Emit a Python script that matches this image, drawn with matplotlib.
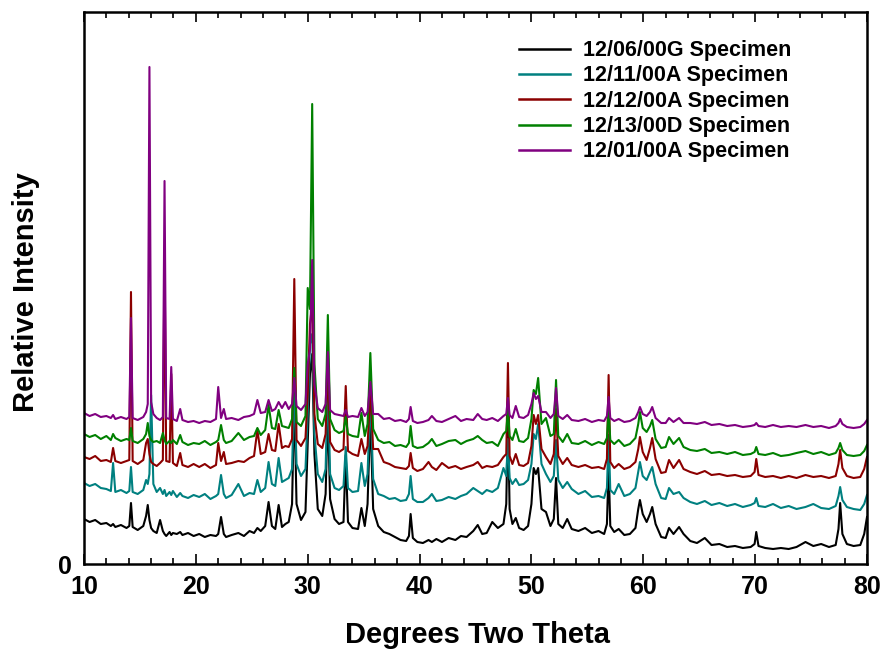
import matplotlib
matplotlib.use("Agg")
import matplotlib.pyplot as plt
from matplotlib.ticker import MultipleLocator

# 2-theta positions (deg) shared by all five patterns, one row per region
two_theta = [
    10.0, 10.5, 11.0, 11.5, 12.0, 12.4, 12.6, 12.8, 13.3, 13.8,
    14.05, 14.2, 14.35, 14.8, 15.3, 15.55, 15.7, 15.85, 16.0, 16.2, 16.5,
    16.8, 17.05, 17.2, 17.35, 17.65, 17.8, 17.95, 18.3, 18.6, 18.8, 19.3, 19.8,
    20.3, 20.8, 21.3, 21.8, 22.0, 22.25, 22.5, 22.7, 23.2, 23.8, 24.3, 24.8,
    25.2, 25.5, 25.8, 26.2, 26.5, 26.8, 27.1, 27.4, 27.7, 28.0, 28.3, 28.6, 28.8, 29.0, 29.4, 29.8,
    30.0, 30.2, 30.4, 30.6, 30.9, 31.3, 31.6, 31.8, 32.0, 32.4, 32.8, 33.2, 33.4, 33.6, 34.0,
    34.5, 34.8, 35.1, 35.35, 35.6, 35.85, 36.3, 36.8, 37.3, 37.8, 38.3, 38.8, 39.05, 39.2, 39.4, 39.8,
    40.3, 40.8, 41.1, 41.5, 42.0, 42.6, 43.2, 43.7, 44.2, 44.8, 45.2, 45.6, 46.0, 46.5, 47.0,
    47.5, 47.75, 47.9, 48.05, 48.3, 48.6, 48.9, 49.3, 49.7, 50.0, 50.2, 50.4, 50.6, 50.9, 51.3, 51.7,
    52.0, 52.2, 52.4, 52.8, 53.2, 53.6, 54.2, 54.8, 55.4, 56.0, 56.5, 56.75, 56.9, 57.05, 57.4, 57.8, 58.3,
    58.8, 59.3, 59.55, 59.7, 59.95, 60.3, 60.6, 60.8, 61.1, 61.6, 62.0, 62.3, 62.7, 63.2, 63.6,
    64.2, 64.8, 65.5, 66.1, 66.8, 67.5, 68.2, 68.9, 69.6, 69.95, 70.1, 70.3, 70.9, 71.6, 72.3,
    73.0, 73.7, 74.5, 75.2, 75.9, 76.6, 77.2, 77.45, 77.6, 77.8, 78.2, 78.8, 79.4, 79.75, 80.0,
]

# relative intensities (offset patterns), same row layout as two_theta
spec_1206g = [
    45, 42, 44, 40, 41, 38, 40, 37, 39, 36,
    38, 61, 37, 34, 38, 48, 59, 44, 36, 33, 31,
    44, 33, 30, 28, 32, 29, 31, 30, 32, 29, 31, 28,
    30, 27, 29, 28, 30, 47, 30, 27, 29, 31, 28, 33,
    31, 36, 33, 38, 62, 38, 35, 59, 37, 40, 42, 60, 169, 60, 44, 52,
    120, 190, 210, 110, 55, 48, 70, 155, 65, 45, 40, 42, 109, 42, 36,
    35, 56, 38, 60, 150, 55, 38, 32, 30, 27, 24, 23, 28, 50, 26, 22,
    21, 24, 22, 25, 22, 26, 24, 28, 27, 33, 39, 30, 31, 42, 36,
    40, 60, 150, 55, 40, 46, 36, 34, 38, 60, 96, 90, 96, 55, 52, 38,
    45, 86, 40, 36, 45, 35, 33, 36, 31, 33, 30, 40, 98, 38, 32, 35, 29,
    30, 36, 55, 64, 50, 42, 50, 57, 40, 27, 26, 36, 30, 37, 30,
    23, 21, 26, 19, 20, 17, 18, 16, 17, 20, 32, 18, 16, 15, 16,
    15, 17, 22, 18, 20, 17, 19, 35, 61, 30, 20, 18, 19, 30, 47,
]
spec_1211a = [
    81, 78, 80, 76, 75, 73, 101, 72, 74, 71,
    73, 97, 72, 70, 74, 84, 80, 90, 169, 80, 72,
    76, 70, 74, 68, 72, 69, 73, 67, 71, 68, 66, 69,
    67, 70, 65, 68, 70, 89, 70, 66, 69, 80, 68, 71,
    70, 84, 72, 76, 102, 80, 78, 106, 82, 84, 86, 95, 180, 100, 88, 95,
    150, 220, 230, 130, 90, 82, 95, 185, 90, 76, 74, 78, 117, 76, 72,
    73, 101, 78, 90, 169, 85, 70, 68, 65, 66, 63, 64, 70, 88, 65, 62,
    62, 66, 70, 63, 64, 67, 65, 68, 70, 76, 73, 70, 74, 72, 76,
    96, 88, 125, 86, 80, 85, 79, 80, 84, 100, 130, 125, 140, 100, 90, 82,
    88, 124, 84, 76, 82, 75, 70, 73, 67, 68, 66, 76, 129, 74, 70, 80, 68,
    70, 76, 92, 102, 88, 84, 92, 97, 80, 66, 65, 76, 70, 72, 66,
    62, 60, 63, 59, 61, 58, 60, 57, 59, 61, 66, 58, 57, 60, 56,
    58, 55, 57, 60, 56, 55, 58, 68, 77, 64, 57, 55, 54, 60, 69,
]
spec_1212a = [
    107, 105, 108, 103, 104, 102, 116, 103, 101, 103,
    104, 272, 103, 100, 104, 121, 125, 110, 102, 100, 98,
    101, 104, 311, 103, 102, 190, 101, 98, 111, 99, 97, 100,
    97, 100, 96, 99, 121, 103, 112, 100, 101, 103, 102, 106,
    108, 134, 110, 112, 130, 114, 113, 140, 116, 118, 117, 125, 285, 124, 118, 126,
    170, 240, 260, 150, 120, 116, 130, 200, 122, 114, 112, 115, 178, 113, 110,
    108, 125, 110, 118, 175, 115, 115, 102, 100, 97, 96, 95, 98, 111, 96, 93,
    95, 102, 97, 94, 101, 96, 98, 95, 97, 99, 102, 96, 98, 97, 99,
    107, 110, 201, 108, 100, 110, 99, 98, 101, 118, 149, 140, 149, 115, 107, 100,
    110, 155, 108, 100, 106, 99, 97, 99, 96, 97, 95, 105, 189, 102, 96, 100, 95,
    97, 102, 115, 127, 112, 104, 116, 126, 105, 91, 92, 104, 96, 104, 95,
    92, 90, 93, 89, 90, 88, 89, 87, 88, 92, 105, 89, 87, 88, 86,
    88, 86, 89, 87, 88, 86, 88, 100, 114, 96, 88, 86, 87, 95, 107,
]
spec_1213d = [
    130, 127, 129, 125, 128, 124, 130, 126, 123, 125,
    124, 136, 123, 121, 125, 130, 141, 128, 124, 122, 123,
    121, 131, 124, 120, 123, 121, 124, 120, 129, 122, 119, 121,
    120, 123, 119, 122, 124, 139, 124, 121, 123, 131, 124, 127,
    128, 136, 129, 134, 159, 136, 135, 154, 138, 137, 136, 145, 196, 142, 138, 148,
    276, 255, 460, 200, 145, 138, 150, 249, 145, 134, 131, 133, 147, 130, 128,
    127, 151, 128, 140, 211, 135, 124, 121, 122, 118, 119, 117, 121, 138, 118, 116,
    117, 121, 125, 118, 120, 123, 124, 120, 123, 125, 128, 124, 121, 122, 118,
    130, 133, 154, 128, 124, 135, 123, 122, 126, 145, 174, 170, 186, 140, 146, 128,
    130, 184, 128, 122, 130, 121, 120, 123, 119, 122, 120, 126, 154, 124, 120, 124, 118,
    120, 126, 140, 152, 136, 132, 138, 144, 125, 116, 117, 127, 120, 126, 117,
    114, 113, 115, 111, 112, 110, 112, 109, 110, 112, 117, 110, 109, 111, 108,
    109, 111, 113, 110, 112, 109, 111, 116, 121, 114, 109, 108, 109, 113, 119,
]
spec_1201a = [
    151, 148, 150, 147, 148, 146, 149, 145, 147, 145,
    147, 246, 146, 144, 147, 152, 160, 497, 162, 150, 146,
    144, 147, 383, 146, 145, 197, 145, 143, 155, 144, 142, 143,
    141, 143, 142, 145, 177, 146, 155, 145, 146, 144, 147, 148,
    150, 164, 151, 152, 164, 153, 155, 162, 156, 162, 155, 160, 186, 158, 154, 160,
    200, 214, 304, 180, 156, 152, 160, 212, 154, 150, 149, 148, 154, 147, 148,
    147, 156, 148, 152, 182, 150, 150, 145, 146, 143, 144, 142, 145, 157, 143, 141,
    142, 144, 148, 143, 142, 145, 148, 143, 145, 144, 150, 145, 144, 146, 143,
    148, 150, 166, 149, 146, 158, 147, 146, 149, 160, 171, 165, 168, 152, 152, 146,
    150, 176, 148, 145, 149, 144, 143, 145, 142, 144, 143, 148, 167, 146, 143, 145, 142,
    143, 146, 152, 157, 150, 148, 152, 157, 146, 141, 141, 146, 142, 146, 141,
    141, 140, 142, 139, 140, 138, 139, 137, 138, 139, 141, 138, 137, 139, 137,
    138, 137, 139, 137, 138, 136, 138, 141, 145, 140, 137, 136, 137, 140, 144,
]

labels = ["12/06/00G Specimen", "12/11/00A Specimen", "12/12/00A Specimen",
          "12/13/00D Specimen", "12/01/00A Specimen"]
colors = ["#000000", "#008080", "#8b0000", "#008000", "#800080"]
series = [spec_1206g, spec_1211a, spec_1212a, spec_1213d, spec_1201a]

plt.rcParams['font.family'] = ['Liberation Sans', 'DejaVu Sans']
plt.rcParams['font.weight'] = 'bold'

fig = plt.figure(figsize=(8.86, 6.51), dpi=100)
ax = fig.add_axes([84 / 886, 87 / 651, 783 / 886, 552 / 651])

for vals, col, lab in zip(series, colors, labels):
    ax.plot(two_theta, vals, color=col, lw=1.5, label=lab)

ax.set_xlim(10, 80)
ax.set_ylim(0, 552)
ax.xaxis.set_major_locator(MultipleLocator(10))
ax.xaxis.set_minor_locator(MultipleLocator(2))
ax.set_yticks([0])
ax.tick_params(axis='x', which='both', direction='in', top=True, width=1.2,
               labelsize=18, pad=8)
ax.tick_params(axis='x', which='major', length=7)
ax.tick_params(axis='x', which='minor', length=4)
ax.tick_params(axis='y', length=0, labelsize=18, pad=9)
for lbl in ax.get_xticklabels() + ax.get_yticklabels():
    lbl.set_fontweight('bold')
for sp in ax.spines.values():
    sp.set_linewidth(1.8)

ax.set_xlabel("Degrees Two Theta", fontsize=21, fontweight='bold')
ax.xaxis.set_label_coords(0.502, -0.104)
ax.set_ylabel("Relative Intensity", fontsize=21, fontweight='bold')
ax.yaxis.set_label_coords(-0.056, 0.493)

leg = ax.legend(loc='upper left', bbox_to_anchor=(0.555, 0.949), frameon=False,
                prop={'size': 15.5, 'weight': 'bold'}, handlelength=2.4,
                handletextpad=0.6, labelspacing=0.2, borderpad=0,
                borderaxespad=0)
for line in leg.get_lines():
    line.set_linewidth(1.8)

fig.savefig("out.png", dpi=100)
